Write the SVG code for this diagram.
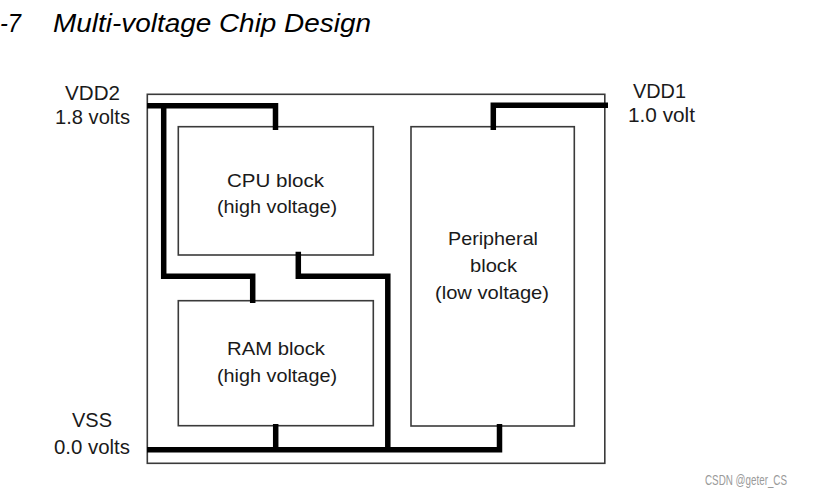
<svg xmlns="http://www.w3.org/2000/svg" width="826" height="495" viewBox="0 0 826 495">
<style>
.box{fill:none;stroke:#3a3a3a;stroke-width:1.6}
.rail{fill:none;stroke:#000;stroke-width:5.5;stroke-linejoin:miter;stroke-linecap:butt}
.lbl{font-family:"Liberation Sans",Arial,sans-serif;font-size:20px;fill:#1a1a1a;text-anchor:middle}
.blk{font-family:"Liberation Sans",Arial,sans-serif;font-size:18.5px;fill:#1a1a1a;text-anchor:middle}
.title{font-family:"Liberation Sans",Arial,sans-serif;font-size:26px;font-style:italic;fill:#000}
.wm{font-family:"Liberation Sans",Arial,sans-serif;font-size:14px;fill:#9a9a9a}
</style>
<rect width="826" height="495" fill="#fff"/>
<g id="title">
<text class="title" x="0" y="32" textLength="21" lengthAdjust="spacingAndGlyphs">-7</text>
<text class="title" x="53" y="32" textLength="318" lengthAdjust="spacingAndGlyphs">Multi-voltage Chip Design</text>
</g>
<g id="chip"><rect class="box" x="147.3" y="94.3" width="457.5" height="369"/></g>
<g id="cpu">
<rect class="box" x="178.3" y="126.7" width="195" height="128.3"/>
<text class="blk" x="275.5" y="187" textLength="97" lengthAdjust="spacingAndGlyphs">CPU block</text>
<text class="blk" x="277" y="213" textLength="120" lengthAdjust="spacingAndGlyphs">(high voltage)</text>
</g>
<g id="ram">
<rect class="box" x="178.3" y="300.7" width="195" height="125"/>
<text class="blk" x="276" y="355" textLength="98" lengthAdjust="spacingAndGlyphs">RAM block</text>
<text class="blk" x="277" y="382" textLength="120" lengthAdjust="spacingAndGlyphs">(high voltage)</text>
</g>
<g id="peripheral">
<rect class="box" x="411" y="126.7" width="163.3" height="299.3"/>
<text class="blk" x="493" y="245" textLength="90" lengthAdjust="spacingAndGlyphs">Peripheral</text>
<text class="blk" x="493.5" y="272" textLength="47" lengthAdjust="spacingAndGlyphs">block</text>
<text class="blk" x="492" y="299" textLength="114" lengthAdjust="spacingAndGlyphs">(low voltage)</text>
</g>
<g id="vdd2">
<text class="lbl" x="92.5" y="100" textLength="55" lengthAdjust="spacingAndGlyphs">VDD2</text>
<text class="lbl" x="92.5" y="124" textLength="75" lengthAdjust="spacingAndGlyphs">1.8 volts</text>
</g>
<g id="vdd1">
<text class="lbl" x="659.5" y="98" textLength="53" lengthAdjust="spacingAndGlyphs">VDD1</text>
<text class="lbl" x="661.5" y="122" textLength="67" lengthAdjust="spacingAndGlyphs">1.0 volt</text>
</g>
<g id="vss">
<text class="lbl" x="92" y="427" textLength="40" lengthAdjust="spacingAndGlyphs">VSS</text>
<text class="lbl" x="92" y="454" textLength="76" lengthAdjust="spacingAndGlyphs">0.0 volts</text>
</g>
<g id="connectors">
<path class="rail" d="M147,105.7 H275.5 V130"/>
<path class="rail" d="M163.7,103 V276.3 H252.7 V303"/>
<path class="rail" d="M608,105.3 H493.3 V130"/>
<path class="rail" d="M147,449.7 H499.5 V424"/>
<path class="rail" d="M275.7,452 V424"/>
<path class="rail" d="M387.8,452 V276.3 H298.3 V251.7"/>
</g>
<text class="wm" x="705" y="485" textLength="82" lengthAdjust="spacingAndGlyphs">CSDN @geter_CS</text>
</svg>
